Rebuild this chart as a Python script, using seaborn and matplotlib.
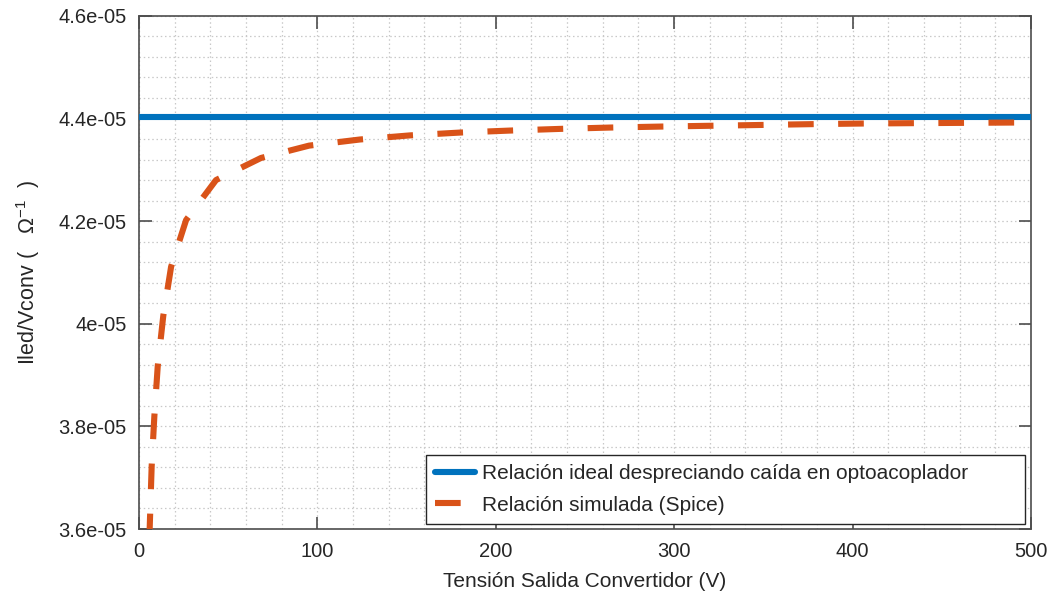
import matplotlib
matplotlib.use("Agg")
import matplotlib.pyplot as plt
from matplotlib.ticker import FixedLocator, MultipleLocator, FuncFormatter
import seaborn as sns
import pandas as pd

# Output voltage of the converter (V) and the simulated Iled/Vconv ratio (1/ohm)
v_sim = [5.8, 6.2, 7.1, 8.6, 10.5, 13.6, 18.0, 26.4, 43.2, 68.4, 95.3, 123.9,
         152.0, 180.0, 208.1, 236.5, 264.7, 293.2, 377.3, 405.5, 433.5,
         461.8, 490.0, 500.0]
ratio_sim = [3.580e-5, 3.624e-5, 3.722e-5, 3.819e-5, 3.917e-5, 4.015e-5,
             4.111e-5, 4.202e-5, 4.280e-5, 4.323e-5, 4.347e-5, 4.359e-5,
             4.367e-5, 4.3725e-5, 4.3764e-5, 4.3797e-5, 4.3823e-5, 4.3842e-5,
             4.3889e-5, 4.3901e-5, 4.3908e-5, 4.3914e-5, 4.3920e-5, 4.3921e-5]

# Ideal ratio (optocoupler drop neglected)
v_ideal = [0.0, 500.0]
ratio_ideal = [4.4035e-5, 4.4035e-5]

x_ticks = [0, 100, 200, 300, 400, 500]
y_ticks = [3.6e-5, 3.8e-5, 4.0e-5, 4.2e-5, 4.4e-5, 4.6e-5]

label_ideal = "Relación ideal despreciando caída en optoacoplador"
label_sim = "Relación simulada (Spice)"

DASHED = (0, (4.2, 4.0))

sns.set_theme(style="white")
plt.rcParams["font.family"] = ["Liberation Sans", "DejaVu Sans"]
plt.rcParams["mathtext.fontset"] = "custom"
plt.rcParams["mathtext.rm"] = "Liberation Sans"
plt.rcParams["mathtext.it"] = "Liberation Sans:italic"

fig = plt.figure(figsize=(10.53, 5.94), dpi=100)
ax = fig.add_axes([0.132, 0.1094, 0.847, 0.864])

df_ideal = pd.DataFrame({"V": v_ideal, "R": ratio_ideal})
df_sim = pd.DataFrame({"V": v_sim, "R": ratio_sim})

sns.lineplot(data=df_ideal, x="V", y="R", ax=ax, color="#0072BD",
             linewidth=4.4, label=label_ideal, zorder=3)
sns.lineplot(data=df_sim, x="V", y="R", ax=ax, color="#D95319",
             linewidth=4.4, label=label_sim, zorder=3)
ax.lines[1].set_linestyle(DASHED)
ax.lines[1].set_dash_capstyle("butt")

ax.set_xlim(0, 500)
ax.set_ylim(3.6e-5, 4.6e-5)
ax.xaxis.set_major_locator(FixedLocator(x_ticks))
ax.yaxis.set_major_locator(FixedLocator(y_ticks))
ax.xaxis.set_minor_locator(MultipleLocator(20))
ax.yaxis.set_minor_locator(MultipleLocator(0.04e-5))
ax.yaxis.set_major_formatter(FuncFormatter(lambda v, p: "%g" % v))
ax.xaxis.set_major_formatter(FuncFormatter(lambda v, p: "%g" % v))

ax.grid(which="both", linestyle=(0, (1.2, 2.2)), color="#c8c8c8",
        linewidth=0.9, zorder=0)
ax.set_axisbelow(True)

ax.tick_params(which="major", direction="in", length=9, width=1.2,
               color="#4d4d4d", top=True, right=True, labelsize=14.5,
               labelcolor="#262626", pad=9, bottom=True, left=True)
ax.tick_params(which="minor", length=0)

for s in ax.spines.values():
    s.set_color("#4d4d4d")
    s.set_linewidth(1.2)

ax.set_xlabel("Tensión Salida Convertidor (V)", fontsize=15, color="#262626",
              labelpad=8)
ax.set_ylabel(r"Iled/Vconv (   $\Omega^{-1}$  )", fontsize=15.5,
              color="#262626", labelpad=12)

leg = ax.legend(loc="lower left", bbox_to_anchor=(0.3217, 0.0097, 0.6715, 0.0),
                mode="expand", borderaxespad=0.0, fontsize=15, frameon=True,
                fancybox=False, edgecolor="#262626", framealpha=1,
                handlelength=1.9, labelspacing=0.6, handletextpad=0.35,
                borderpad=0.45)
leg.get_frame().set_linewidth(1.0)
handles = leg.get_lines()
handles[0].set_linestyle("-")
handles[0].set_linewidth(4.4)
# a single dash in the legend sample
handles[1].set_linestyle((0, (4.2, 8.0)))
handles[1].set_dash_capstyle("butt")
handles[1].set_linewidth(4.4)

fig.savefig("out.png", dpi=100)
